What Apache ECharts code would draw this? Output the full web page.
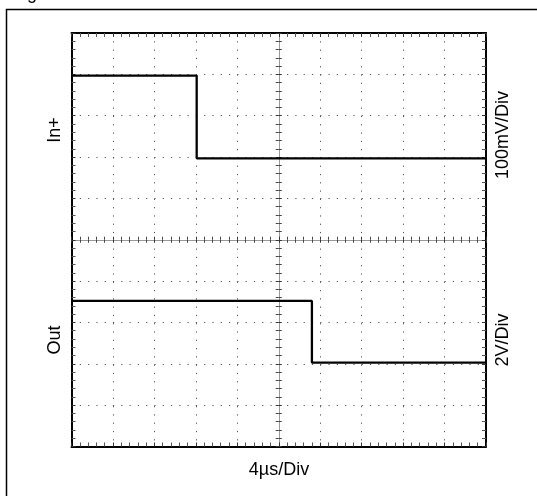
<!DOCTYPE html>
<html>
<head>
<meta charset="utf-8">
<script src="https://cdn.jsdelivr.net/npm/echarts@6/dist/echarts.min.js"></script>
<style>
html,body{margin:0;padding:0;background:#fff;}
#c{width:537px;height:496px;}
</style>
</head>
<body>
<div id="c"></div>
<script>
// Data in divisions (x: 4µs/Div, In+: 100mV/Div, Out: 2V/Div)
var inTimes  = [0, 3.02, 3.02, 10];
var inLevels = [8.97, 8.97, 6.97, 6.97];
var outTimes  = [0, 5.8, 5.8, 10];
var outLevels = [3.52, 3.52, 2.03, 2.03];
var xLabel = '4µs/Div';
var inName = 'In+', outName = 'Out';
var inScale = '100mV/Div', outScale = '2V/Div';

function pairs(xs, ys){ return xs.map(function(x,i){ return [x, ys[i]]; }); }

var G = {left:71.5, top:33, width:414.5, height:413.5};
var FONT = '"Liberation Sans", Arial, sans-serif';
var dotted = [1.2, 7.09];

function borderAxis(pos, split){
  return {
    type:'value', min:0, max:10, interval:1, position:pos,
    axisLine:{show:true, onZero:false, lineStyle:{color:'#000', width:2}},
    axisTick:{show:true, inside:true, length:4, lineStyle:{color:'#333', width:1}},
    minorTick:{show:true, splitNumber:5, length:4, lineStyle:{color:'#555', width:1}},
    axisLabel:{show:false},
    splitLine:{show:!!split, lineStyle:{color:'#555', width:1, type:dotted}},
    minorSplitLine:{show:false}
  };
}
function centerAxis(pos, offset, inside){
  return {
    type:'value', min:0, max:10, interval:1, position:pos, offset:offset,
    axisLine:{show:true, onZero:false, lineStyle:{color:'#999', width:1}},
    axisTick:{show:true, inside:inside, length:3, lineStyle:{color:'#333', width:1}},
    minorTick:{show:true, splitNumber:5, length:3, lineStyle:{color:'#444', width:1}},
    axisLabel:{show:false},
    splitLine:{show:false}
  };
}

var chart = echarts.init(document.getElementById('c'), null, {renderer:'canvas'});
chart.setOption({
  animation:false,
  backgroundColor:'#fff',
  grid:G,
  xAxis:[
    borderAxis('bottom', true),
    borderAxis('top', false),
    centerAxis('bottom', -G.height/2, true),
    centerAxis('bottom', -G.height/2, false)
  ],
  yAxis:[
    borderAxis('left', true),
    borderAxis('right', false),
    centerAxis('left', -G.width/2, true),
    centerAxis('left', -G.width/2, false)
  ],
  series:[
    {type:'line', xAxisIndex:0, yAxisIndex:0, data:pairs(inTimes, inLevels), symbol:'none',
     lineStyle:{color:'#000', width:2.3}, z:10},
    {type:'line', xAxisIndex:0, yAxisIndex:0, data:pairs(outTimes, outLevels), symbol:'none',
     lineStyle:{color:'#000', width:2.3}, z:10}
  ],
  graphic:[
    {type:'rect', shape:{x:6.5, y:9.5, width:700, height:700}, style:{fill:'none', stroke:'#000', lineWidth:1.5}, silent:true},
    {type:'text', x:27, y:-6, style:{text:'g', font:'18px '+FONT, fill:'#000', textAlign:'left', textVerticalAlign:'middle'}},
    {type:'text', x:279, y:470, style:{text:xLabel, font:'18px '+FONT, fill:'#000', textAlign:'center', textVerticalAlign:'middle'}},
    {type:'text', x:55, y:130, rotation:Math.PI/2, style:{text:inName, font:'18px '+FONT, fill:'#000', textAlign:'center', textVerticalAlign:'middle'}},
    {type:'text', x:55, y:340, rotation:Math.PI/2, style:{text:outName, font:'18px '+FONT, fill:'#000', textAlign:'center', textVerticalAlign:'middle'}},
    {type:'text', x:503, y:135, rotation:Math.PI/2, style:{text:inScale, font:'18px '+FONT, fill:'#000', textAlign:'center', textVerticalAlign:'middle'}},
    {type:'text', x:503, y:340, rotation:Math.PI/2, style:{text:outScale, font:'18px '+FONT, fill:'#000', textAlign:'center', textVerticalAlign:'middle'}}
  ]
});
</script>
</body>
</html>
